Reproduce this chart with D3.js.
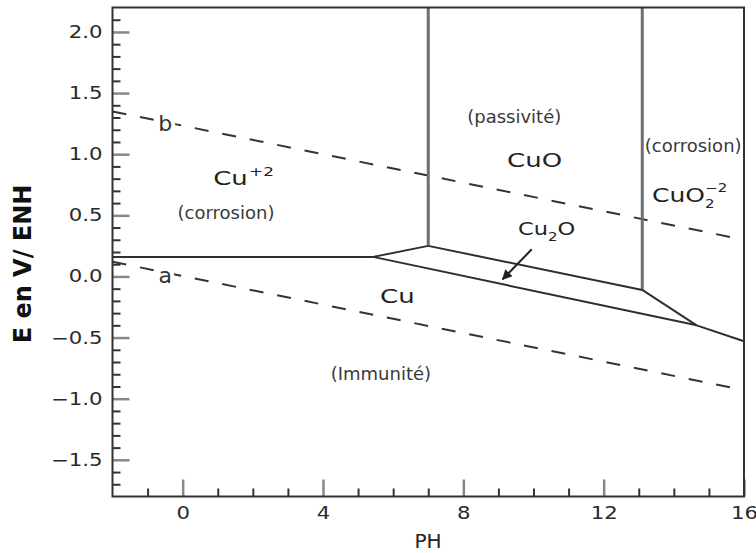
<!DOCTYPE html>
<html>
<head>
<meta charset="utf-8">
<script src="https://cdn.jsdelivr.net/npm/d3@7"></script>
<style>
  html, body { margin: 0; padding: 0; background: #fff; }
  svg { display: block; }
  text { font-family: "DejaVu Sans", sans-serif; }
</style>
</head>
<body>
<svg id="chart" width="756" height="553"></svg>
<script>
// ---------- data ----------
const phDomain = [-2, 16];
const eDomain = [-1.8, 2.2];
const xMajorTicks = [0, 4, 8, 12, 16];
const yMajorTicks = [-1.5, -1.0, -0.5, 0.0, 0.5, 1.0, 1.5, 2.0];

// domain boundaries [pH, E]
const cu2_cu     = [[-2, 0.16], [5.43, 0.16]];
const cu2_cu2o   = [[5.43, 0.16], [7.0, 0.25]];
const cu2_cuo    = [[7.0, 0.25], [7.0, 2.2]];
const cuo_cu2o   = [[7.0, 0.25], [13.1, -0.11]];
const cuo_cuo2   = [[13.1, -0.11], [13.1, 2.2]];
const cuo2_cu2o  = [[13.1, -0.11], [14.65, -0.40]];
const cu2o_cu    = [[5.43, 0.16], [14.65, -0.40]];
const cuo2_cu    = [[14.65, -0.40], [16, -0.53]];
// water stability lines
const lineA = [[-2, 0.12], [16, -0.93]];
const lineB = [[-2, 1.35], [16, 0.30]];
// arrow pointing to Cu2O domain
const arrowCu2O = [[9.95, 0.222], [9.12, -0.023]];

const darkLines = [cu2_cu, cu2_cu2o, cuo_cu2o, cuo2_cu2o, cu2o_cu, cuo2_cu];
const greyLines = [cu2_cuo, cuo_cuo2];

// ---------- chart ----------
const svg = d3.select("#chart");
const x = d3.scaleLinear().domain(phDomain).range([112.5, 744]);
const y = d3.scaleLinear().domain(eDomain).range([496.5, 7.5]);
const line = d3.line().x(d => x(d[0])).y(d => y(d[1]));

// minor ticks
const xMinor = d3.range(-1, 16, 1).filter(v => !xMajorTicks.includes(v));
const yMinor = d3.range(-17, 22, 1).map(v => v / 10).filter(v => !yMajorTicks.some(t => Math.abs(t - v) < 1e-9));

const gx = svg.append("g").attr("transform", `translate(0,${y(eDomain[0])})`);
gx.call(d3.axisBottom(x).tickValues(xMinor).tickSizeInner(-8).tickSizeOuter(0).tickFormat(""));
gx.selectAll(".tick line").attr("stroke", "#333").attr("stroke-width", 2);
const gxM = svg.append("g").attr("transform", `translate(0,${y(eDomain[0])})`);
gxM.call(d3.axisBottom(x).tickValues(xMajorTicks).tickSizeInner(-17).tickSizeOuter(0).tickPadding(10).tickFormat(d3.format("d")));
gxM.selectAll(".tick line").attr("stroke", "#888").attr("stroke-width", 2.5);
gxM.selectAll(".tick text").attr("font-size", 17).attr("fill", "#2a2a2a")
   .attr("font-family", "DejaVu Sans").attr("transform", "scale(1.25,1)");
svg.selectAll(".domain").remove();

const gy = svg.append("g").attr("transform", `translate(${x(phDomain[0])},0)`);
gy.call(d3.axisLeft(y).tickValues(yMinor).tickSizeInner(-8).tickSizeOuter(0).tickFormat(""));
gy.selectAll(".tick line").attr("stroke", "#333").attr("stroke-width", 2);
const gyM = svg.append("g").attr("transform", `translate(${x(phDomain[0])},0)`);
gyM.call(d3.axisLeft(y).tickValues(yMajorTicks).tickSizeInner(-17).tickSizeOuter(0).tickPadding(10).tickFormat(d3.format(".1f")));
gyM.selectAll(".tick line").attr("stroke", "#888").attr("stroke-width", 2.5);
gyM.selectAll(".tick text").attr("font-size", 17).attr("fill", "#2a2a2a")
   .attr("font-family", "DejaVu Sans").attr("x", -10 / 1.25).attr("transform", "scale(1.25,1)");
svg.selectAll(".domain").remove();

// dashed water lines
[lineA, lineB].forEach(l => {
  svg.append("path").attr("d", line(l)).attr("fill", "none")
    .attr("stroke", "#333").attr("stroke-width", 2).attr("stroke-dasharray", "14,14");
});

// a / b labels with white halo
[["b", -0.50, 1.19], ["a", -0.50, -0.054]].forEach(([t, p, e]) => {
  svg.append("text").attr("x", x(p)).attr("y", y(e)).attr("text-anchor", "middle")
    .attr("font-size", 22).attr("fill", "#333")
    .attr("stroke", "#fff").attr("stroke-width", 8).attr("paint-order", "stroke")
    .text(t);
});

// solid boundaries
greyLines.forEach(l => svg.append("path").attr("d", line(l)).attr("fill", "none")
  .attr("stroke", "#6e6e6e").attr("stroke-width", 3));
darkLines.forEach(l => svg.append("path").attr("d", line(l)).attr("fill", "none")
  .attr("stroke", "#2e2e2e").attr("stroke-width", 2).attr("stroke-linejoin", "round"));

// arrow
const defs = svg.append("defs");
defs.append("marker").attr("id", "ah").attr("viewBox", "0 0 10 10").attr("refX", 9).attr("refY", 5)
  .attr("markerWidth", 5).attr("markerHeight", 5).attr("orient", "auto")
  .append("path").attr("d", "M0,0 L10,5 L0,10 z").attr("fill", "#222");
svg.append("path").attr("d", line(arrowCu2O)).attr("stroke", "#222").attr("stroke-width", 2)
  .attr("fill", "none").attr("marker-end", "url(#ah)");

// frame
svg.append("rect").attr("x", x(phDomain[0])).attr("y", y(eDomain[1]))
  .attr("width", x(phDomain[1]) - x(phDomain[0])).attr("height", y(eDomain[0]) - y(eDomain[1]))
  .attr("fill", "none").attr("stroke", "#333").attr("stroke-width", 2);

// labels
function label(p, e, parts, opts) {
  const g = svg.append("g").attr("transform", `translate(${x(p)},${y(e)}) scale(${opts.sx || 1},1)`);
  const t = g.append("text").attr("text-anchor", opts.anchor || "start")
    .attr("font-size", opts.size).attr("fill", opts.color || "#222");
  parts.forEach(pt => {
    const s = t.append("tspan").text(pt.t);
    if (pt.size) s.attr("font-size", pt.size);
    if (pt.dy) s.attr("dy", pt.dy);
    if (pt.dx) s.attr("dx", pt.dx);
  });
}
const paren = { size: 18, color: "#3a3a3a", anchor: "middle" };
label(1.235, 0.47, [{ t: "(corrosion)" }], paren);
label(9.45, 1.255, [{ t: "(passivité)" }], paren);
label(14.55, 1.018, [{ t: "(corrosion)" }], paren);
label(5.65, -0.847, [{ t: "(Immunité)" }], paren);

label(0.87, 0.748, [{ t: "Cu" }, { t: "+2", size: 13, dy: -9, dx: 1 }], { size: 20, sx: 1.3 });
label(10.03, 0.895, [{ t: "CuO" }], { size: 20, sx: 1.3, anchor: "middle" });
label(13.38, 0.609, [{ t: "CuO" }, { t: "2", size: 12, dy: 6 }, { t: "−2", size: 12, dy: -16, dx: -7.6 }], { size: 20, sx: 1.25 });
label(9.56, 0.339, [{ t: "Cu" }, { t: "2", size: 12, dy: 6 }, { t: "O", dy: -6 }], { size: 18, sx: 1.25 });
label(6.12, -0.215, [{ t: "Cu" }], { size: 20, sx: 1.3, anchor: "middle" });

// axis titles
svg.append("text").attr("transform", `translate(31,${264}) rotate(-90)`).attr("text-anchor", "middle")
  .attr("font-size", 24).attr("font-weight", "bold").attr("fill", "#111").text("E en V/ ENH");
svg.append("text").attr("x", 428).attr("y", 548).attr("text-anchor", "middle")
  .attr("font-size", 20).attr("fill", "#222").text("PH");
</script>
</body>
</html>
